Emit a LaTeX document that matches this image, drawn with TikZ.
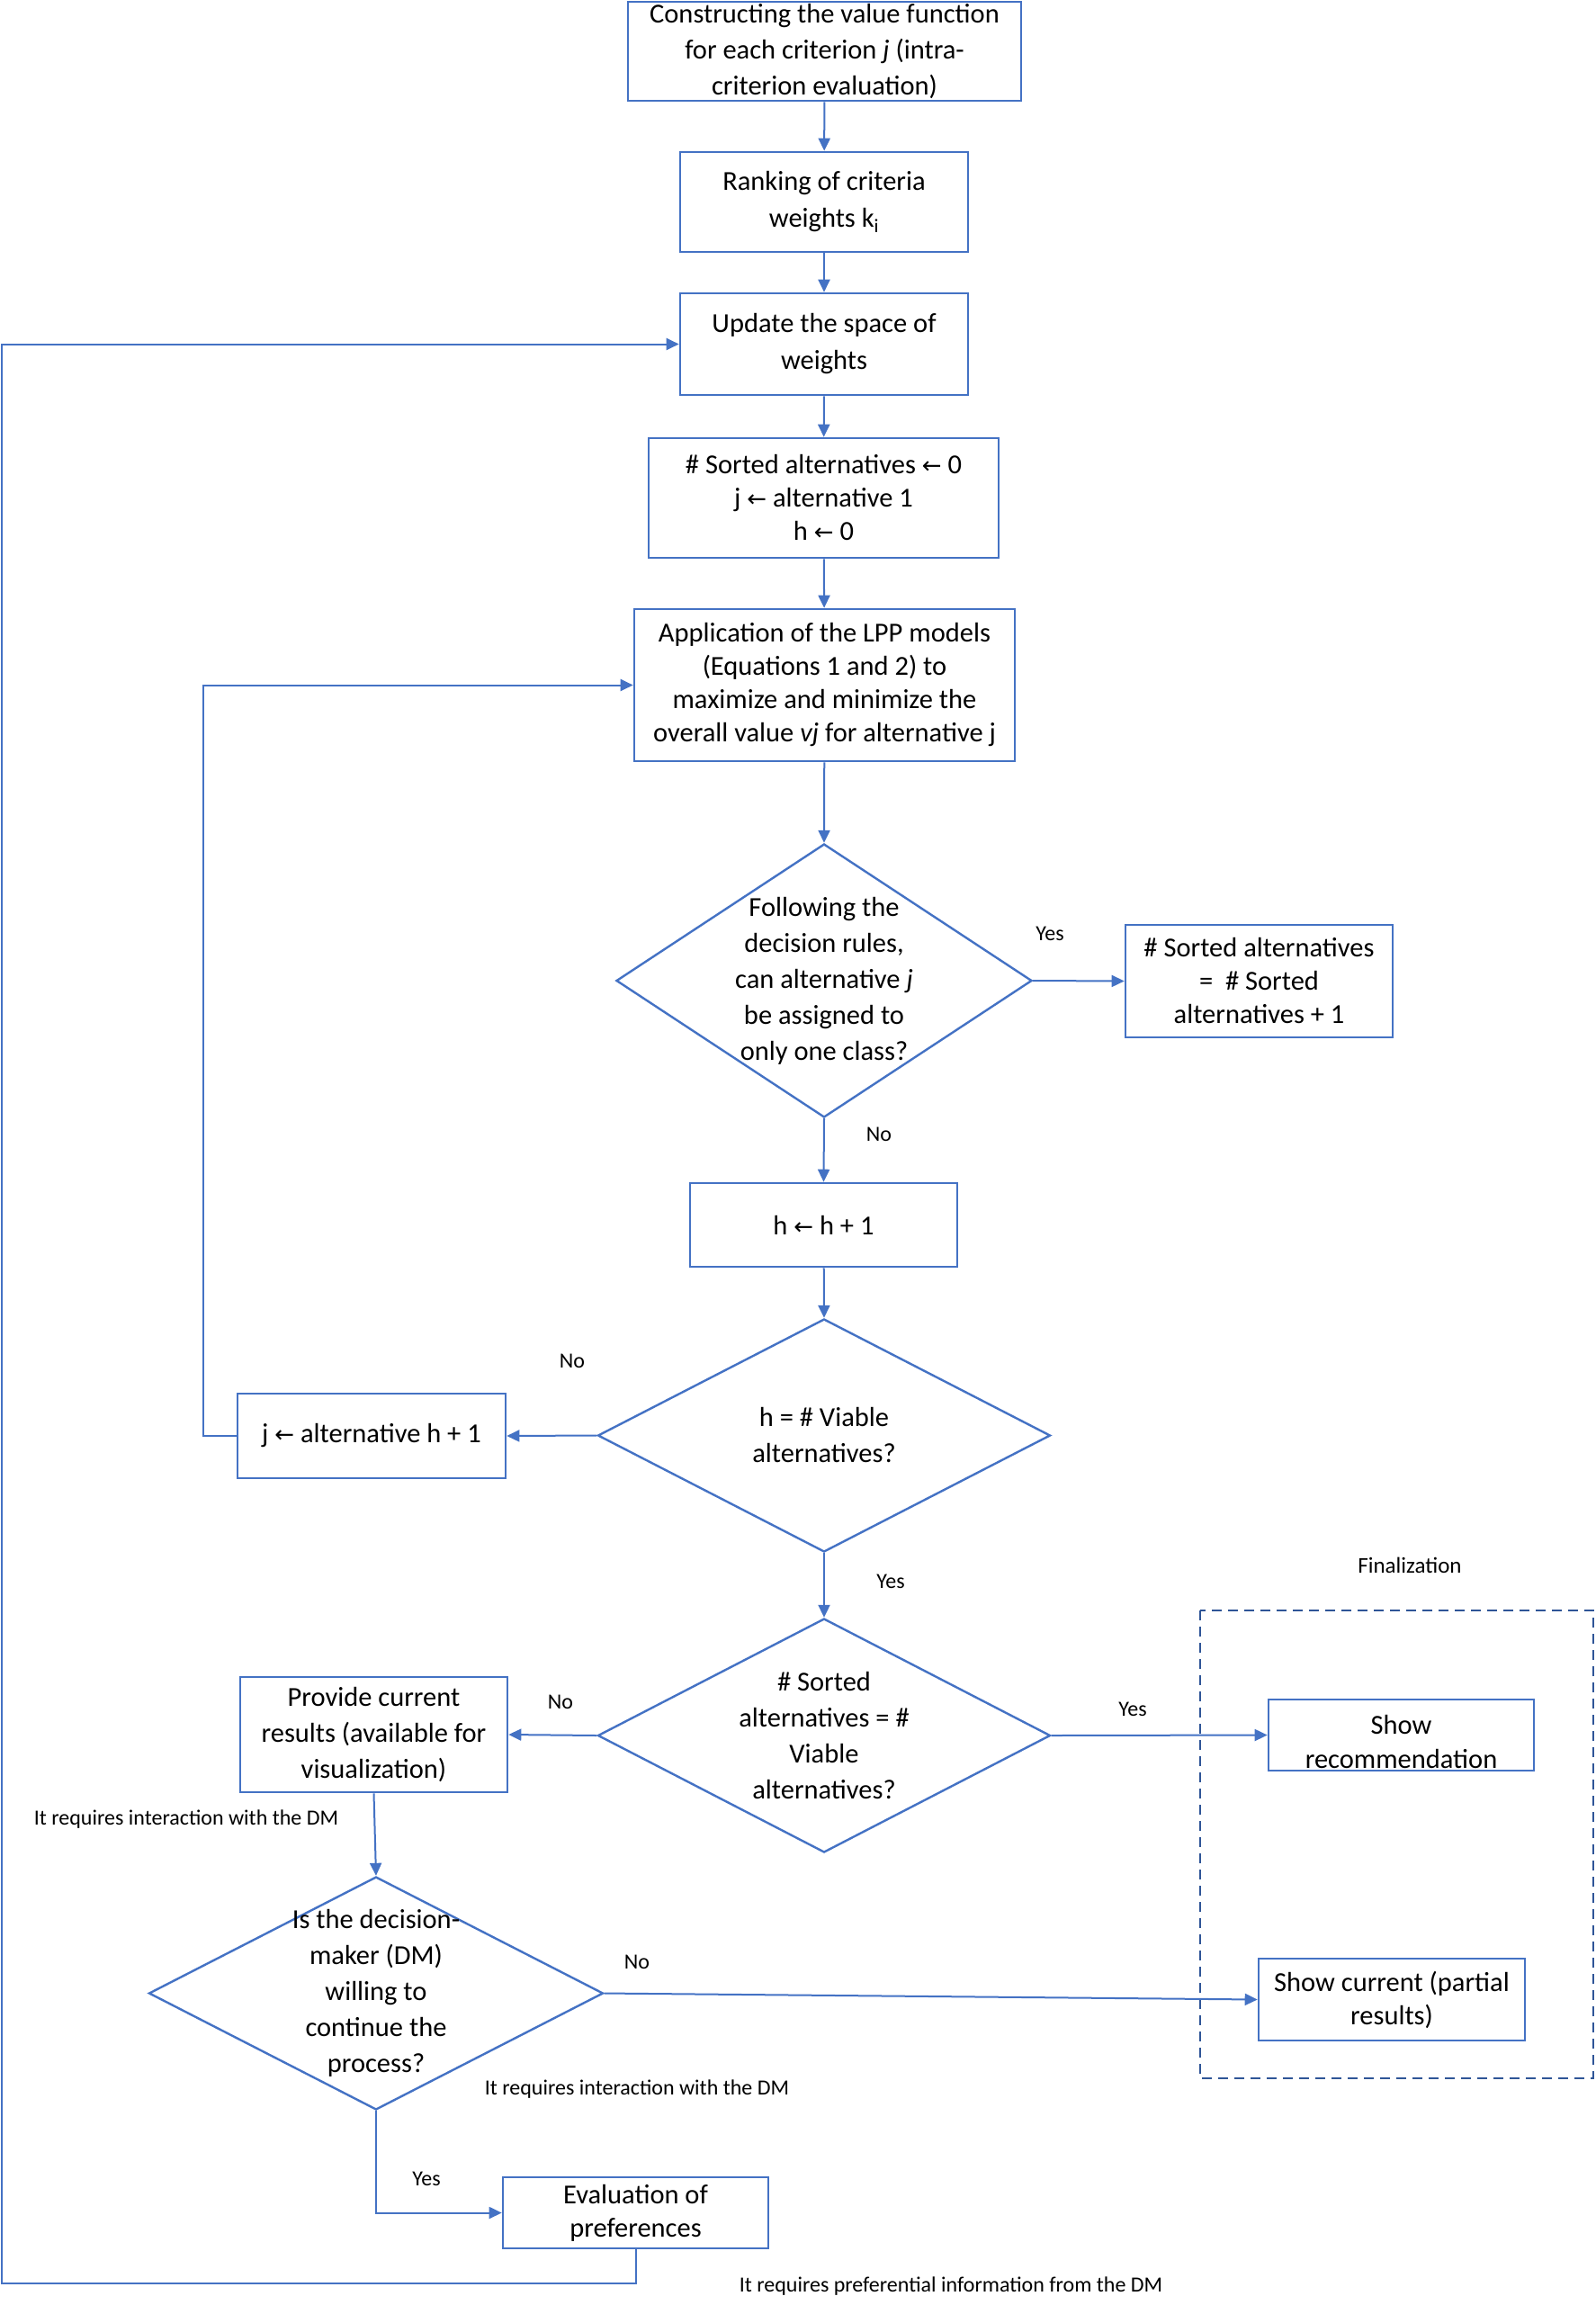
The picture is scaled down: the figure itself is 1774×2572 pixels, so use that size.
\documentclass[tikz,border=0pt]{standalone}
\usepackage{fontspec}
\setmainfont{Carlito}
\newfontfamily\arrowfont{DejaVu Sans}
\newcommand{\larr}{{\arrowfont\fontsize{26}{30}\selectfont ←}}
\usetikzlibrary{shapes.geometric,arrows.meta,calc}
\definecolor{lineblue}{HTML}{4472C4}
\definecolor{dashblue}{HTML}{2F5597}
\begin{document}
\begin{tikzpicture}[x=1pt,y=-1pt,
 box/.style={draw=lineblue,line width=2.6pt,rectangle,inner sep=0pt,align=center,font=\fontsize{30.5}{39}\selectfont},
 dia/.style={draw=lineblue,line width=2.4pt,diamond,inner sep=0pt},
 dtext/.style={align=center,font=\fontsize{30.5}{40}\selectfont},
 conn/.style={draw=lineblue,line width=2pt,-{Triangle[length=14pt,width=13pt]}},
 lab/.style={font=\fontsize{24}{28}\selectfont,inner sep=0pt},
]
\useasboundingbox (0,0) rectangle (1774,2572);
% boxes
\node[box,minimum width=437pt,minimum height=110pt,font=\fontsize{30.5}{40}\selectfont] (b1) at (916.5,57) {Constructing the value function\\for each criterion \textit{j} (intra-\\criterion evaluation)};
\node[box,minimum width=320pt,minimum height=111pt,font=\fontsize{30.5}{41}\selectfont] (b2) at (916,224.5) {Ranking of criteria\\weights k\textsubscript{i}};
\node[box,minimum width=320pt,minimum height=113pt,font=\fontsize{30.5}{41}\selectfont] (b3) at (916,382.5) {Update the space of\\weights};
\node[box,minimum width=389pt,minimum height=133pt,font=\fontsize{30.5}{37}\selectfont] (b4) at (915.5,553.5) {\# Sorted alternatives \larr{} 0\\j \larr{} alternative 1\\h \larr{} 0};
\node[box,minimum width=423pt,minimum height=169pt,font=\fontsize{30.5}{37}\selectfont] (b5) at (916.5,761.5) {Application of the LPP models\\(Equations 1 and 2) to\\maximize and minimize the\\overall value \textit{vj} for alternative j};
% diamond 1
\node[dia,minimum width=462pt,minimum height=304pt] (d1) at (916,1090) {};
\node[dtext] (d1t) at (d1) {Following the\\decision rules,\\can alternative \textit{j}\\be assigned to\\only one class?};
\node[box,minimum width=297pt,minimum height=125pt,font=\fontsize{30.5}{37}\selectfont] (srt) at (1399.5,1090.5) {\# Sorted alternatives\\=\ \ \# Sorted\\alternatives + 1};
\node[box,minimum width=297pt,minimum height=93pt] (hb) at (915.5,1361.5) {h \larr{} h + 1};
% diamond 2
\node[dia,minimum width=503pt,minimum height=259pt] (d2) at (916,1595.5) {};
\node[dtext] (d2t) at (d2) {h = \# Viable\\alternatives?};
\node[box,minimum width=298pt,minimum height=94pt] (jb) at (413,1596) {j \larr{} alternative h + 1};
% diamond 3
\node[dia,minimum width=503pt,minimum height=260pt] (d3) at (916,1929) {};
\node[dtext] (d3t) at (d3) {\# Sorted\\alternatives = \#\\Viable\\alternatives?};
\node[box,minimum width=297pt,minimum height=128pt,font=\fontsize{30.5}{40}\selectfont] (pr) at (415.5,1928) {Provide current\\results (available for\\visualization)};
% finalization group
\draw[dashblue,line width=2.4pt,dash pattern=on 11pt off 7pt] (1334,1790) rectangle (1771,2310);
\node[lab,font=\fontsize{25}{29}\selectfont] (fin) at (1567,1740) {Finalization};
\node[box,minimum width=295pt,minimum height=79pt] (sr) at (1557.5,1928.5) {};
\node[align=center,font=\fontsize{30.5}{38}\selectfont,inner sep=0pt] (srt2) at ([yshift=-7pt]sr.center) {Show\\recommendation};
\node[box,minimum width=296pt,minimum height=91pt,font=\fontsize{30.5}{37}\selectfont] (sc) at (1547,2222.5) {Show current (partial\\results)};
% diamond 4
\node[dia,minimum width=505pt,minimum height=259pt] (d4) at (418,2215.5) {};
\node[dtext] (d4t) at (d4) {Is the decision-\\maker (DM)\\willing to\\continue the\\process?};
\node[box,minimum width=295pt,minimum height=79pt,font=\fontsize{30.5}{37}\selectfont] (ev) at (706.5,2459.5) {Evaluation of\\preferences};
% coordinates for loops
\coordinate (lj) at (226,1596);
\coordinate (lb) at (2,2538);
% connectors
\draw[conn] (b1) -- (b2);
\draw[conn] (b2) -- (b3);
\draw[conn] (b3) -- (b4);
\draw[conn] (b4) -- (b5);
\draw[conn] (b5) -- (d1.north);
\draw[conn] (d1.east) -- (srt.west);
\draw[conn] (d1.south) -- (hb.north);
\draw[conn] (hb) -- (d2.north);
\draw[conn] (d2.west) -- (jb.east);
\draw[conn] (jb.west) -- (lj) |- (b5.west);
\draw[conn] (d2.south) -- (d3.north);
\draw[conn] (d3.west) -- (pr.east);
\draw[conn] (d3.east) -- (sr.west);
\draw[conn] (pr.south) -- (d4.north);
\draw[conn] (d4.east) -- (sc.west);
\draw[conn] (d4.south) |- (ev.west);
\draw[conn] (ev.south) |- (lb) |- (b3.west);
% labels
\node[lab] (y1) at (1167,1038) {Yes};
\node[lab] (n1) at (977,1261) {No};
\node[lab] (n2) at (636,1513) {No};
\node[lab] (y2) at (990,1758) {Yes};
\node[lab] (n3) at (623,1892) {No};
\node[lab] (y3) at (1259,1900) {Yes};
\node[lab] (r1) at (207,2022) {It requires interaction with the DM};
\node[lab] (n4) at (708,2181) {No};
\node[lab] (r2) at (708,2322) {It requires interaction with the DM};
\node[lab] (y4) at (474,2422) {Yes};
\node[lab] (r3) at (1057,2541) {It requires preferential information from the DM};
\end{tikzpicture}
\end{document}
